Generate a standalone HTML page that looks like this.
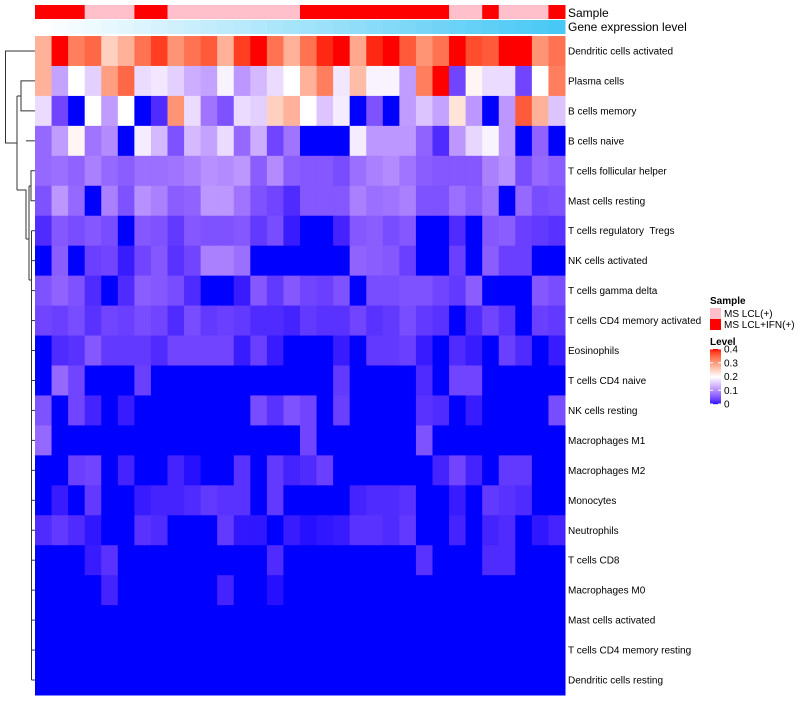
<!DOCTYPE html>
<html><head><meta charset="utf-8"><style>
body{margin:0;background:#fff;width:800px;height:700px;overflow:hidden;font-family:"Liberation Sans",sans-serif}
svg text{font-family:"Liberation Sans",sans-serif;white-space:pre}
</style></head><body>
<svg id="chart" width="800" height="700" xmlns="http://www.w3.org/2000/svg"></svg>
<script>
const rowNames=["Dendritic cells activated","Plasma cells","B cells memory","B cells naive","T cells follicular helper","Mast cells resting","T cells regulatory  Tregs","NK cells activated","T cells gamma delta","T cells CD4 memory activated","Eosinophils","T cells CD4 naive","NK cells resting","Macrophages M1","Macrophages M2","Monocytes","Neutrophils","T cells CD8","Macrophages M0","Mast cells activated","T cells CD4 memory resting","Dendritic cells resting"];
const sampleGroups=[1,1,1,0,0,0,1,1,0,0,0,0,0,0,0,0,1,1,1,1,1,1,1,1,1,0,0,1,0,0,0,1];
const sampleLabels=["MS LCL(+)","MS LCL+IFN(+)"];
const r1=[.28,.4,.33,.35,.25,.28,.34,.38,.31,.34,.36,.28,.38,.4,.34,.28,.34,.39,.4,.29,.39,.4,.36,.31,.34,.4,.37,.36,.4,.4,.31,.34];
const r2=[.28,.12,.2,.16,.3,.35,.17,.18,.16,.13,.12,.19,.11,.14,.17,.2,.28,.33,.18,.27,.19,.19,.115,.33,.4,.04,.21,.17,.17,.04,.2,.33];
const r3=[.17,.04,0,.2,.115,.2,0,.02,.31,.17,.08,.05,.17,.16,.25,.28,.2,.15,.185,0,.05,0,.115,.15,.12,.23,.11,0,.11,.36,.28,.15];
const r4=[.07,.115,.21,.08,.1,0,.185,.14,.05,.14,.12,.17,.07,.13,.04,.08,0,0,0,.185,.11,.11,.11,.065,.02,.11,.165,.19,.11,0,.065,0];
const r5=[.07,.075,.065,.09,.07,.06,.075,.075,.08,.09,.105,.1,.11,.06,.1,.06,.055,.055,.045,.075,.09,.1,.08,.06,.055,.055,.055,.09,.105,.045,.07,.06];
const r6=[.05,.11,.07,0,.09,.05,.105,.09,.06,.065,.11,.11,.08,.05,.04,.02,.055,.055,.055,.09,.075,.08,.09,.05,.05,.075,.06,.08,0,.07,.045,.05];
const r7=[.02,.055,.045,.055,.045,0,.055,.05,.03,.055,.05,.05,.055,.03,.045,.01,0,0,.015,.055,.06,.045,.055,0,0,.02,0,.055,.06,.035,.03,.025];
const r8=[0,.06,0,.035,.04,.01,.04,.055,.025,.04,.09,.09,.075,0,0,0,0,0,0,.065,.06,.055,.035,0,0,.035,0,.06,.035,.035,0,0];
const r9=[.05,.065,.05,.02,0,.02,.06,.055,.045,.02,0,0,.01,.055,.03,.055,.04,.035,.05,0,.045,.045,.05,.05,.04,.03,.06,0,0,0,.055,.045];
const r10=[.04,.035,.045,.025,.04,.035,.045,.04,.02,.045,.03,.035,.03,.02,.02,.015,.03,.025,.025,.04,.025,.03,.045,.03,.025,0,.02,.04,.025,0,.035,.03];
const r11=[0,.02,.025,.055,.03,.03,.03,.02,.04,.04,.04,.04,.01,.035,.01,0,0,0,.01,0,.03,.03,.035,.01,0,.02,.01,0,.035,.02,0,.01];
const r12=[0,.07,.04,0,0,0,.035,0,0,0,0,0,0,0,0,0,0,0,.03,0,0,0,0,.02,0,.04,.04,0,0,0,0,0];
const r13=[.05,0,.04,.015,0,.01,0,0,0,0,0,0,0,.045,.025,.05,.04,0,.035,0,0,0,0,.025,.02,0,.01,0,0,0,0,.045];
const r14=[.07,0,0,0,0,0,0,0,0,0,0,0,0,0,0,0,.04,0,0,0,0,0,0,.05,0,0,0,0,0,0,0,0];
const r15=[0,0,.035,.04,0,.015,0,0,.015,.005,0,0,.025,0,.03,.015,.02,.035,0,0,0,0,0,0,.015,.04,.015,0,.03,.03,0,0];
const r16=[0,.01,0,.03,0,0,.01,.015,.015,.02,.03,.025,.025,0,.03,0,0,0,0,.015,.02,.02,.025,0,0,.01,0,.03,.025,.02,0,0];
const r17=[.02,.03,.02,.008,0,0,.025,.02,0,0,0,.03,.008,.008,0,.01,.005,.008,.01,.025,.025,.02,.03,0,0,.015,0,.015,.02,0,.008,.015];
const r18=[0,0,0,.01,.025,0,0,0,0,0,0,0,0,0,.02,0,0,0,0,0,0,0,0,.025,0,0,0,.02,.02,0,0,0];
const r19=[0,0,0,0,.015,0,0,0,0,0,0,.015,0,0,.005,0,0,0,0,0,0,0,0,0,0,0,0,0,0,0,0,0];
const r20=new Array(32).fill(0);
const r21=new Array(32).fill(0);
const r22=new Array(32).fill(0);
const values=[r1,r2,r3,r4,r5,r6,r7,r8,r9,r10,r11,r12,r13,r14,r15,r16,r17,r18,r19,r20,r21,r22];
const legendTicks=[0,0.1,0.2,0.3,0.4];

const NS="http://www.w3.org/2000/svg";
const svg=document.getElementById('chart');
function mk(t,a,p){const e=document.createElementNS(NS,t);for(const k in a)e.setAttribute(k,a[k]);(p||svg).appendChild(e);return e;}
// Lab color ramp
function s2l(c){c/=255;return c<=0.04045?c/12.92:Math.pow((c+0.055)/1.055,2.4);}
function l2s(c){c=c<=0.0031308?12.92*c:1.055*Math.pow(c,1/2.4)-0.055;return Math.max(0,Math.min(255,Math.round(c*255)));}
function toLab(rgb){const r=s2l(rgb[0]),g=s2l(rgb[1]),b=s2l(rgb[2]);
let x=(0.4124*r+0.3576*g+0.1805*b)/0.95047,y=0.2126*r+0.7152*g+0.0722*b,z=(0.0193*r+0.1192*g+0.9505*b)/1.08883;
const f=t=>t>0.008856?Math.cbrt(t):7.787*t+16/116;x=f(x);y=f(y);z=f(z);return [116*y-16,500*(x-y),200*(y-z)];}
function fromLab(l){let y=(l[0]+16)/116,x=l[1]/500+y,z=y-l[2]/200;
const fi=t=>t*t*t>0.008856?t*t*t:(t-16/116)/7.787;x=fi(x)*0.95047;y=fi(y);z=fi(z)*1.08883;
const r=3.2406*x-1.5372*y-0.4986*z,g=-0.9689*x+1.8758*y+0.0415*z,b=0.0557*x-0.2040*y+1.0570*z;
return 'rgb('+l2s(r)+','+l2s(g)+','+l2s(b)+')';}
const LB=toLab([0,0,255]),LW=toLab([255,255,255]),LR=toLab([255,0,0]);
function color(v){v=Math.max(0,Math.min(0.4,v));let a,b,t;if(v<0.2){a=LB;b=LW;t=v/0.2;}else{a=LW;b=LR;t=(v-0.2)/0.2;}
return fromLab([a[0]+(b[0]-a[0])*t,a[1]+(b[1]-a[1])*t,a[2]+(b[2]-a[2])*t]);}
const X0=35,X1=565,Y0=36,Y1=695;
const nC=32,nR=22,cw=(X1-X0)/nC,rh=(Y1-Y0)/nR;
const xPos=i=>X0+i*cw, yPos=j=>Y0+j*rh;
// top annotations
const sampleColors=["#FFC0CB","#FF0000"];
for(let i=0;i<nC;i++){
 const s=mk('rect',{x:xPos(i),y:5,width:cw+0.5,height:14,fill:sampleColors[sampleGroups[i]]});
 
 
 const t=i/(nC-1);
 const g=mk('rect',{x:xPos(i),y:20,width:cw+0.5,height:14,fill:'rgb('+Math.round(255-(255-72)*t)+','+Math.round(255-(255-200)*t)+','+Math.round(255-(255-245)*t)+')'});
 
 
}
let t1=mk('text',{x:568,y:17,'font-size':12,fill:'#000'});t1.textContent='Sample';

let t2=mk('text',{x:568,y:31,'font-size':12,fill:'#000'});t2.textContent='Gene expression level';

// cells
for(let j=0;j<nR;j++){
 for(let i=0;i<nC;i++){
  const c=mk('rect',{x:xPos(i),y:yPos(j),width:cw+0.5,height:rh+0.5,fill:color(values[j][i])});
  
  
 }
 const l=mk('text',{x:568,y:yPos(j)+rh/2+3.5,'font-size':10,fill:'#000'});
 l.textContent=rowNames[j];
 
 
}
// dendrogram
const dg=mk('g',{stroke:'#333','stroke-width':1,fill:'none'});

const yc=j=>yPos(j)+rh/2;
const dpaths=[
 `M35 ${yc(0)} H5.5 V143 H17`,
 `M17 96 V190`,`M17 96 H21`,`M35 ${yc(1)} H21 V${yc(2)} H35`,
 `M17 190 H26 V239`,`M26 ${yc(3)} H35`,`M26 239 H29`,
 `M29 186 V280`,`M29 186 H31 V${yc(4)} H35`,`M31 186 V${yc(5)} H35`,`M29 280 H31.5`,
 `M31.5 ${yc(6)} V${yc(21)}`,
];
for(let j=6;j<nR;j++)dpaths.push(`M31.5 ${yc(j)} H35`);
dpaths.forEach(d=>mk('path',{d:d},dg));
// legend
const lg=mk('g',{});
let lt=mk('text',{x:710,y:304,'font-size':10,'font-weight':'bold'},lg);lt.textContent='Sample';
sampleLabels.forEach((s,k)=>{
 const r=mk('rect',{x:710,y:308+k*11,width:11,height:11,fill:sampleColors[k]},lg);
 
 const t=mk('text',{x:724,y:317+k*11,'font-size':10},lg);t.textContent=s;
 
});
let lv=mk('text',{x:710,y:345,'font-size':10,'font-weight':'bold'},lg);lv.textContent='Level';
const cbTop=349,cbBot=404;
for(let k=0;k<55;k++){const v=0.4*(1-k/55);mk('rect',{x:710,y:cbTop+k,width:11,height:1.2,fill:color(v)},lg);}
legendTicks.forEach(v=>{
 const y=cbBot-(v/0.4)*(cbBot-cbTop);
 mk('line',{x1:710,x2:713,y1:y,y2:y,stroke:'#fff','stroke-width':1},lg);
 mk('line',{x1:718,x2:721,y1:y,y2:y,stroke:'#fff','stroke-width':1},lg);
 const t=mk('text',{x:724,y:y+3.5,'font-size':10},lg);t.textContent=v===0?'0':v.toFixed(1);
 
});
</script>
</body></html>
